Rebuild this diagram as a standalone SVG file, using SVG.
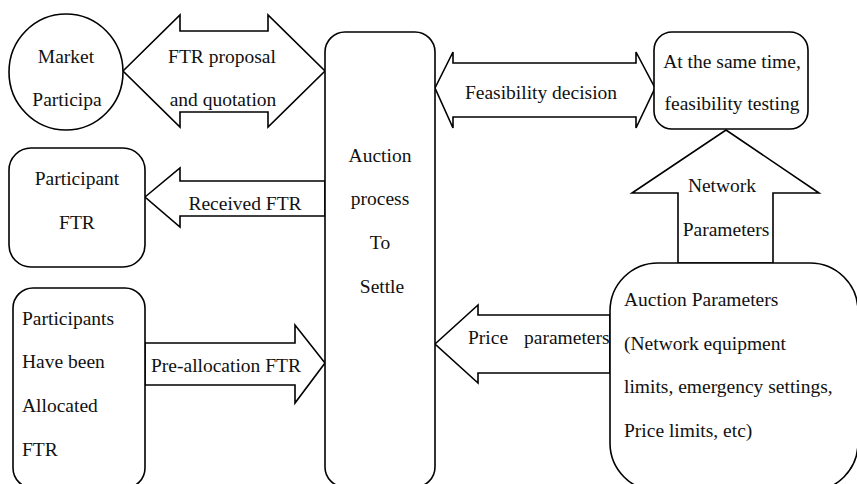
<svg xmlns="http://www.w3.org/2000/svg" width="857" height="484" viewBox="0 0 857 484">
  <style>
    .shape { fill: #ffffff; stroke: #000000; stroke-width: 1.6; stroke-linejoin: miter; }
    text { font-family: 'Liberation Serif', 'DejaVu Serif', serif; font-size: 19.5px; fill: #111111; }
    .mid { text-anchor: middle; }
  </style>
  <rect width="857" height="484" fill="#ffffff"/>

  <!-- connectors: block arrows -->
  <g id="connectors">
    <g id="arrow-proposal">
      <polygon class="shape" points="123,71 180,15 180,31 268,31 268,15 325,71 268,127 268,112 180,112 180,127"/>
      <text class="mid" x="222" y="63">FTR proposal</text>
      <text class="mid" x="223" y="106">and quotation</text>
    </g>
    <g id="arrow-feasibility">
      <polygon class="shape" points="435,88 453,52 453,63 636,63 636,52 655,88 636,128 636,117 453,117 453,128"/>
      <text class="mid" x="541" y="99">Feasibility decision</text>
    </g>
    <g id="arrow-received">
      <polygon class="shape" points="145,197 180,168 180,181 325,181 325,216 180,216 180,227"/>
      <text class="mid" x="245" y="210">Received FTR</text>
    </g>
    <g id="arrow-preallocation">
      <polygon class="shape" points="145,343 295,343 295,325 325,363 295,403 295,385 145,385"/>
      <text class="mid" x="226" y="372">Pre-allocation FTR</text>
    </g>
    <g id="arrow-price">
      <polygon class="shape" points="435,344 478,305 478,315 610,315 610,373 478,373 478,383"/>
      <text x="468" y="344">Price</text>
      <text x="524" y="344">parameters</text>
    </g>
    <g id="arrow-network">
      <polygon class="shape" points="726,130 819,193 773,193 773,263 678,263 678,193 632,193"/>
      <text class="mid" x="722" y="192">Network</text>
      <text class="mid" x="726" y="236">Parameters</text>
    </g>
  </g>

  <!-- nodes -->
  <g id="market-participant">
    <ellipse class="shape" cx="66" cy="72" rx="57" ry="58"/>
    <text class="mid" x="66" y="63">Market</text>
    <text class="mid" x="67" y="106">Participa</text>
  </g>

  <g id="auction-process">
    <rect class="shape" x="325" y="32" width="110" height="455" rx="20" ry="20"/>
    <text class="mid" x="380" y="162">Auction</text>
    <text class="mid" x="380" y="205">process</text>
    <text class="mid" x="380" y="249">To</text>
    <text class="mid" x="382" y="293">Settle</text>
  </g>

  <g id="feasibility-testing">
    <rect class="shape" x="654" y="32" width="154" height="97" rx="18" ry="18"/>
    <text class="mid" x="732" y="68">At the same time,</text>
    <text class="mid" x="732" y="110">feasibility testing</text>
  </g>

  <g id="participant-ftr">
    <rect class="shape" x="9" y="148" width="136" height="119" rx="22" ry="22"/>
    <text class="mid" x="77" y="185">Participant</text>
    <text class="mid" x="77" y="229">FTR</text>
  </g>

  <g id="allocated-ftr">
    <rect class="shape" x="13" y="288" width="132" height="200" rx="20" ry="20"/>
    <text x="22" y="325">Participants</text>
    <text x="22" y="368">Have been</text>
    <text x="22" y="412">Allocated</text>
    <text x="22" y="456">FTR</text>
  </g>

  <g id="auction-parameters">
    <rect class="shape" x="610" y="263" width="248" height="228" rx="48" ry="48"/>
    <text x="624" y="306">Auction Parameters</text>
    <text x="624" y="350">(Network equipment</text>
    <text x="624" y="393">limits, emergency settings,</text>
    <text x="624" y="437">Price limits, etc)</text>
  </g>
</svg>
